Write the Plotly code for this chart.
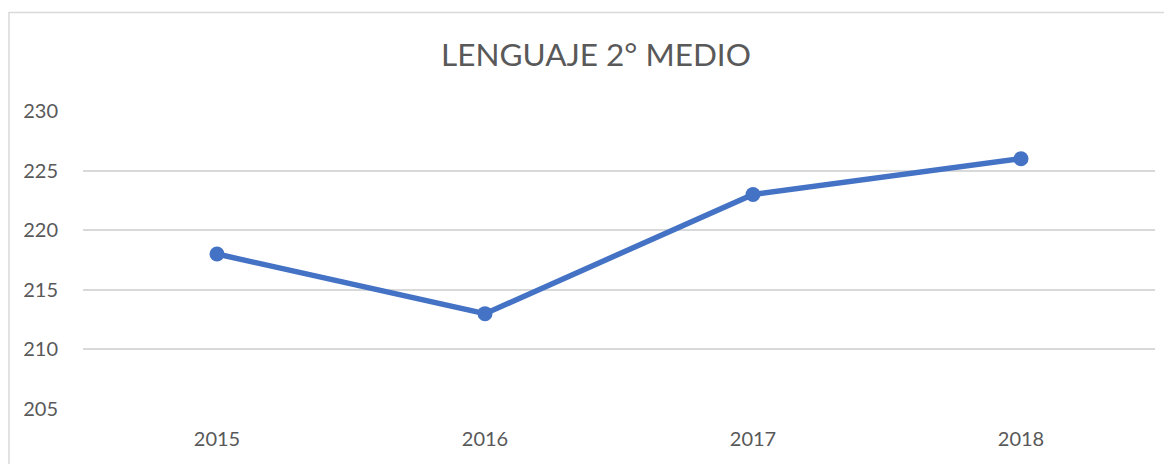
import plotly.graph_objects as go

years = ["2015", "2016", "2017", "2018"]
scores = [218, 213, 223, 226]
y_ticks = [205, 210, 215, 220, 225, 230]
title_text = "LENGUAJE 2° MEDIO"

# page body has an 8px margin; size the figure to fit the visible window
OFF = 8
W, H = 1172 - OFF, 464 - OFF
L, R, T, B = 83 - OFF, 17, 111 - OFF, 55
pw, ph = W - L - R, H - T - B

def px_x(p):
    return (p - OFF - L) / pw

def px_y(p):
    return (H - B - (p - OFF)) / ph

fig = go.Figure()
fig.add_trace(go.Scatter(
    x=years, y=scores, mode="lines+markers",
    line=dict(color="#4472C4", width=5.5),
    marker=dict(color="#4472C4", size=15),
    cliponaxis=False,
))

fig.update_layout(
    width=W, height=H,
    margin=dict(l=L, r=R, t=T, b=B, autoexpand=False),
    paper_bgcolor="white", plot_bgcolor="white",
    showlegend=False,
    font=dict(family="Lato", color="#595959"),
    title=dict(text=title_text, x=px_x(596), xref="paper", xanchor="center",
               y=1 - (55 - OFF) / H, yref="container", yanchor="middle",
               font=dict(size=31.5, color="#595959", family="Lato")),
    xaxis=dict(type="category", range=[-0.5, 3.5], showgrid=False, zeroline=False,
               showline=False, automargin=False,
               ticks="", tickfont=dict(size=20, color="#595959"),
               ticklabelstandoff=16),
    yaxis=dict(range=[205, 230], tickvals=y_ticks, showgrid=True, automargin=False,
               gridcolor="#D9D9D9", gridwidth=1.5, zeroline=False,
               showline=False, ticks="", tickfont=dict(size=20, color="#595959"),
               ticklabelstandoff=24),
    shapes=[dict(type="rect", xref="paper", yref="paper",
                 x0=px_x(OFF + 1), x1=px_x(1250), y0=px_y(OFF + 4.5), y1=px_y(520),
                 line=dict(color="#D9D9D9", width=1.5), fillcolor="rgba(0,0,0,0)",
                 layer="below")],
)

fig.write_html("out.html")
